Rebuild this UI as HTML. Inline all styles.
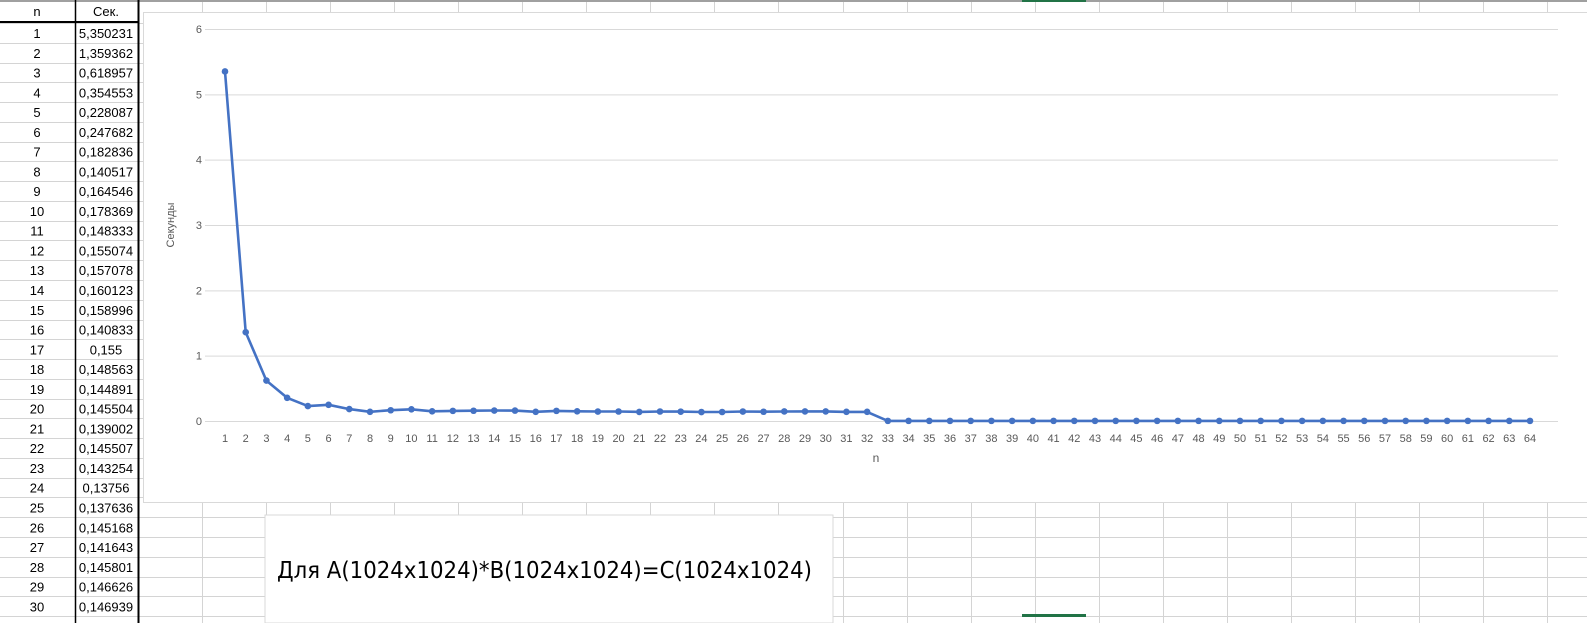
<!DOCTYPE html>
<html><head><meta charset="utf-8">
<style>
html,body{margin:0;padding:0;background:#fff;}
body{width:1587px;height:623px;overflow:hidden;position:relative;font-family:"Liberation Sans","DejaVu Sans",sans-serif;}
svg{position:absolute;left:0;top:0;}
</style></head>
<body>
<svg id="s" width="1587" height="623"></svg>
<script>
const nVals=[1,2,3,4,5,6,7,8,9,10,11,12,13,14,15,16,17,18,19,20,21,22,23,24,25,26,27,28,29,30];
const secLabels=["5,350231","1,359362","0,618957","0,354553","0,228087","0,247682","0,182836","0,140517","0,164546","0,178369","0,148333","0,155074","0,157078","0,160123","0,158996","0,140833","0,155","0,148563","0,144891","0,145504","0,139002","0,145507","0,143254","0,13756","0,137636","0,145168","0,141643","0,145801","0,146626","0,146939"];
const categories=[];for(let i=1;i<=64;i++)categories.push(i);
const seconds=[5.350231,1.359362,0.618957,0.354553,0.228087,0.247682,0.182836,0.140517,0.164546,0.178369,0.148333,0.155074,0.157078,0.160123,0.158996,0.140833,0.155,0.148563,0.144891,0.145504,0.139002,0.145507,0.143254,0.13756,0.137636,0.145168,0.141643,0.145801,0.146626,0.146939,0.14,0.14,
0.002,0.002,0.002,0.002,0.002,0.002,0.002,0.002,0.002,0.002,0.002,0.002,0.002,0.002,0.002,0.002,0.002,0.002,0.002,0.002,0.002,0.002,0.002,0.002,0.002,0.002,0.002,0.002,0.002,0.002,0.002,0.002];
const yTicks=[0,1,2,3,4,5,6];

const NS="http://www.w3.org/2000/svg";
const s=document.getElementById('s');
function mk(tag,attrs,parent){const e=document.createElementNS(NS,tag);for(const k in attrs)e.setAttribute(k,attrs[k]);(parent||s).appendChild(e);return e;}

const rowTop=23,rowH=19.77;
const colXs=[75,138];for(let x=202.05;x<1587;x+=64.05)colXs.push(Math.round(x));
for(const x of colXs){mk('line',{x1:x+.5,y1:0,x2:x+.5,y2:623,stroke:'#d4d4d4'});}
for(let r=0;r<=31;r++){const y=Math.round(rowTop+r*rowH)+.5;mk('line',{x1:0,y1:y,x2:1587,y2:y,stroke:'#d4d4d4'});}
mk('line',{x1:0,y1:1,x2:1587,y2:1,stroke:'#a0a0a0','stroke-width':2});
mk('rect',{x:1022,y:0,width:64,height:2,fill:'#217346'});
mk('rect',{x:1022,y:614,width:64,height:3,fill:'#217346'});

const hdrN=mk('text',{x:37,y:16,'text-anchor':'middle','font-size':13,fill:'#000'});hdrN.textContent='n';


const hdrS=mk('text',{x:106,y:16,'text-anchor':'middle','font-size':13,fill:'#000'});hdrS.textContent='Сек.';


mk('line',{x1:0,y1:22,x2:138,y2:22,stroke:'#000','stroke-width':2});
mk('line',{x1:75.5,y1:0,x2:75.5,y2:623,stroke:'#000','stroke-width':1.5});
mk('line',{x1:138.5,y1:0,x2:138.5,y2:623,stroke:'#000','stroke-width':2});
nVals.forEach((n,i)=>{
  const y=rowTop+i*rowH+15;
  const a=mk('text',{x:37,y:y,'text-anchor':'middle','font-size':13,fill:'#000'});a.textContent=n;
  
  
  const b=mk('text',{x:106,y:y,'text-anchor':'middle','font-size':13,fill:'#000'});b.textContent=secLabels[i];
  
  
});

const chart=mk('g',{});


mk('rect',{x:143.5,y:12.5,width:1460,height:490,fill:'#fff',stroke:'#d9d9d9'},chart);
const x0=225,dx=(1530-225)/63,yZero=421,yPer=(421-29)/6;
const X=i=>x0+(i-1)*dx, Y=v=>yZero-v*yPer;
yTicks.forEach(t=>{
  mk('line',{x1:205,y1:Y(t)+.5,x2:1558,y2:Y(t)+.5,stroke:'#d9d9d9'},chart);
  const tx=mk('text',{x:202,y:Y(t)+4,'text-anchor':'end','font-size':11,fill:'#595959'},chart);tx.textContent=t;
  
  
});
categories.forEach(c=>{
  const tx=mk('text',{x:X(c),y:442,'text-anchor':'middle','font-size':11,fill:'#595959'},chart);tx.textContent=c;
  
  
});
const yt=mk('text',{x:0,y:0,'text-anchor':'middle','font-size':11,fill:'#595959',transform:'translate(174,225) rotate(-90)'},chart);yt.textContent='Секунды';


const xt=mk('text',{x:876,y:462,'text-anchor':'middle','font-size':12,fill:'#595959'},chart);xt.textContent='n';


const pts=categories.map((c,i)=>X(c).toFixed(1)+','+Y(seconds[i]).toFixed(1)).join(' ');
const line=mk('polyline',{points:pts,fill:'none',stroke:'#4472c4','stroke-width':2.6,'stroke-linejoin':'round'},chart);


categories.forEach((c,i)=>{
  const p=mk('circle',{cx:X(c),cy:Y(seconds[i]),r:3.3,fill:'#4472c4'},chart);
  
  
});

const tb=mk('rect',{x:265,y:515,width:568,height:108,fill:'#fff',stroke:'#d9d9d9'});


const cap=mk('text',{x:277,y:578,'font-size':23,fill:'#000','font-family':'"DejaVu Sans","Liberation Sans",sans-serif','textLength':535,'lengthAdjust':'spacingAndGlyphs'});
cap.textContent='Для A(1024x1024)*B(1024x1024)=C(1024x1024)';


</script>
</body></html>
